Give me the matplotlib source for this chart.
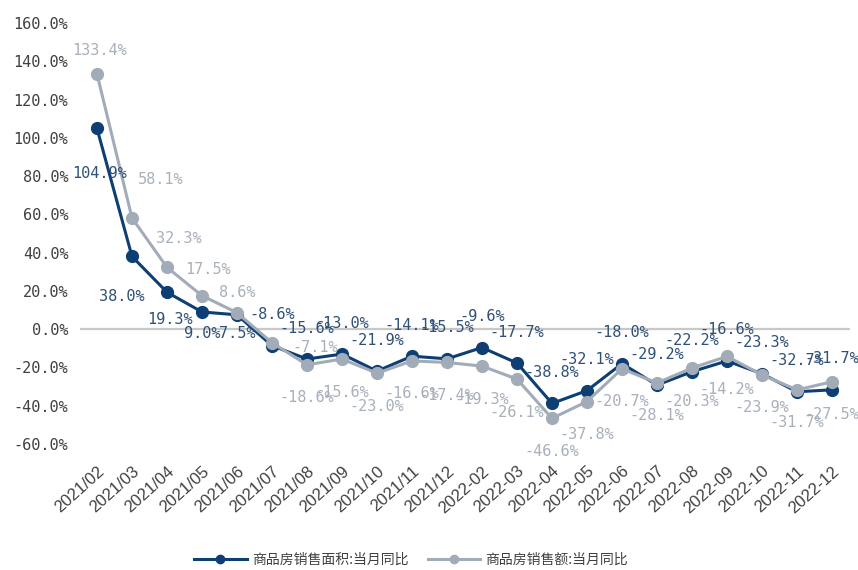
import matplotlib
matplotlib.use("Agg")
import matplotlib.pyplot as plt
from matplotlib.lines import Line2D

plt.rcParams['font.family'] = ['Noto Sans CJK SC', 'DejaVu Sans']

months = ['2021/02', '2021/03', '2021/04', '2021/05', '2021/06', '2021/07',
          '2021/08', '2021/09', '2021/10', '2021/11', '2021/12',
          '2022-02', '2022-03', '2022-04', '2022-05', '2022-06', '2022-07',
          '2022-08', '2022-09', '2022-10', '2022-11', '2022-12']

# 商品房销售面积:当月同比 (%)
area_yoy = [104.9, 38.0, 19.3, 9.0, 7.5, -8.6, -15.6, -13.0, -21.9, -14.1, -15.5,
            -9.6, -17.7, -38.8, -32.1, -18.0, -29.2, -22.2, -16.6, -23.3, -32.7, -31.7]
# 商品房销售额:当月同比 (%)
sales_yoy = [133.4, 58.1, 32.3, 17.5, 8.6, -7.1, -18.6, -15.6, -23.0, -16.6, -17.4,
             -19.3, -26.1, -46.6, -37.8, -20.7, -28.1, -20.3, -14.2, -23.9, -31.7, -27.5]

name_area = '商品房销售面积:当月同比'
name_sales = '商品房销售额:当月同比'

c_area = '#0e3f74'
c_sales = '#a2acb9'
c_area_txt = '#2f5077'
c_sales_txt = '#a8b0bb'

fig = plt.figure(figsize=(8.58, 5.70), dpi=100)
ax = fig.add_axes([79.5 / 858, 126 / 570, 770 / 858, 421 / 570])

x = list(range(len(months)))
ax.axhline(0, color='#c8c8c8', lw=1.6, zorder=1)
ax.plot(x, area_yoy, color=c_area, lw=2.2, marker='o', ms=8.5, zorder=3)
ax.plot(x, sales_yoy, color=c_sales, lw=2.2, marker='o', ms=8.5, zorder=4)

# label offsets in pixels (x right, y up)
area_off = {0: (3, -45), 1: (-10, -40), 2: (3, -27), 3: (0, -22), 4: (0, -19)}
sales_off = {0: (3, 23), 1: (29, 38), 2: (12, 29), 3: (6, 26), 4: (0, 20), 5: (43, -5)}

for i, v in enumerate(area_yoy):
    ax.annotate('%.1f%%' % v, (i, v), xytext=area_off.get(i, (0, 31)),
                textcoords='offset pixels', ha='center', va='center',
                color=c_area_txt, fontsize=11, family='DejaVu Sans Mono', zorder=6)
for i, v in enumerate(sales_yoy):
    ax.annotate('%.1f%%' % v, (i, v), xytext=sales_off.get(i, (0, -33)),
                textcoords='offset pixels', ha='center', va='center',
                color=c_sales_txt, fontsize=11, family='DejaVu Sans Mono', zorder=6)

ax.set_xlim(-0.5, 21.5)
ax.set_ylim(-60, 160)
yt = list(range(-60, 161, 20))
ax.set_yticks(yt)
ax.set_yticklabels(['%.1f%%' % t for t in yt], family='DejaVu Sans Mono',
                   fontsize=11, color='#404040')
ax.set_xticks(x)
ax.set_xticklabels(months, rotation=42, ha='right', rotation_mode='anchor',
                   family='Liberation Sans', fontsize=12, color='#404040')
ax.tick_params(axis='both', length=0)
ax.tick_params(axis='y', pad=8)
ax.tick_params(axis='x', pad=14)
for s in ax.spines.values():
    s.set_visible(False)

handles = [Line2D([], [], color=c_area, lw=2.2, marker='o', ms=6),
           Line2D([], [], color=c_sales, lw=2.2, marker='o', ms=6)]
fig.legend(handles, [name_area, name_sales], loc='center',
           bbox_to_anchor=(411 / 858, 1 - 560 / 570), ncol=2, frameon=False,
           fontsize=10, handlelength=3.8, handletextpad=0.35, columnspacing=1.4,
           labelcolor='#404040')

fig.savefig('out.png', dpi=100)
